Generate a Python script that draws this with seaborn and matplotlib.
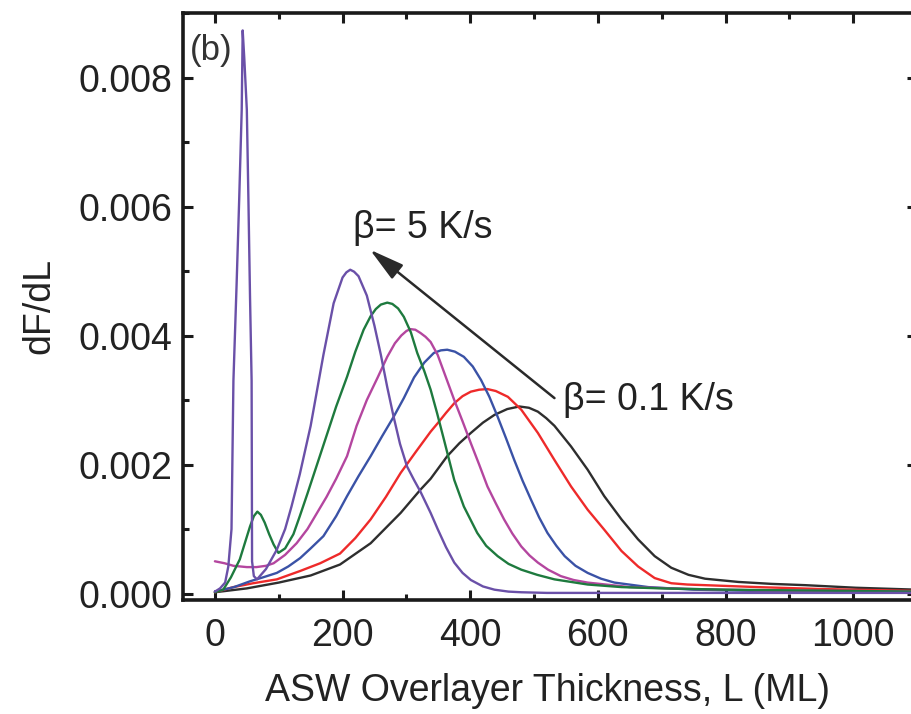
import numpy as np
import pandas as pd
import matplotlib
matplotlib.use("Agg")
import matplotlib.pyplot as plt
import seaborn as sns

# ---- data (dF/dL values read in units of 1e-3) ----
L_p = [0, 8, 16, 21, 26, 29, 34, 38, 42, 43.5, 46, 50, 52.5, 55, 57.5, 58.2, 61, 66, 80, 97,
       110, 120, 133, 150, 170, 186, 200, 206, 212, 218, 225, 238, 250, 260, 270, 280, 290, 301, 312, 322,
       338, 349, 362, 375, 388, 401, 420, 438, 460, 480, 520, 600, 700, 800, 900, 1000, 1100]
v_p = [0.03, 0.08, 0.17, 0.42, 1.0, 3.3, 4.8, 6.1, 7.5, 8.73, 8.3, 7.5, 6.1, 4.6, 3.3, 0.5, 0.27, 0.22, 0.38, 0.68,
       1.0, 1.35, 1.85, 2.6, 3.7, 4.5, 4.9, 4.98, 5.02, 4.99, 4.92, 4.62, 4.15, 3.7, 3.2, 2.74, 2.32, 1.97, 1.76, 1.58,
       1.25, 1.0, 0.72, 0.48, 0.32, 0.21, 0.11, 0.06, 0.03, 0.02, 0.01, 0.01, 0.01, 0.01, 0.01, 0.01, 0.01]

L_g = [0, 13, 25, 39, 55, 61, 66.5, 72, 78, 85, 92, 99.5, 110, 123, 133, 145, 160, 175, 190, 207, 220, 233,
       244, 252, 260, 270, 278, 287, 296, 307, 317, 328, 338, 348, 359, 375, 390, 411, 425, 443, 460, 480, 505,
       532, 584, 637, 700, 800, 900, 1000, 1100]
v_g = [0.02, 0.06, 0.25, 0.53, 1.04, 1.2, 1.27, 1.22, 1.1, 0.92, 0.76, 0.63, 0.7, 0.92, 1.2, 1.55, 2.0, 2.45, 2.9, 3.36, 3.75, 4.09,
       4.3, 4.41, 4.48, 4.51, 4.49, 4.42, 4.29, 4.05, 3.73, 3.45, 3.16, 2.8, 2.38, 1.76, 1.35, 0.94, 0.74, 0.58, 0.46, 0.37, 0.29,
       0.22, 0.14, 0.1, 0.08, 0.06, 0.05, 0.04, 0.03]

L_m = [0, 15, 29, 50, 65, 80, 92, 110, 128, 145, 160, 175, 190, 207, 222, 238, 255, 270, 282, 292, 300, 306,
       314, 322, 330, 338, 349, 362, 375, 388, 401, 414, 427, 440, 453, 466, 480, 493, 506, 522, 542, 562, 584,
       650, 750, 850, 1000, 1100]
v_m = [0.5, 0.47, 0.43, 0.41, 0.41, 0.43, 0.47, 0.6, 0.78, 1.0, 1.25, 1.5, 1.78, 2.13, 2.6, 3.0, 3.35, 3.67, 3.88, 4.0, 4.07, 4.1,
       4.09, 4.04, 3.98, 3.9, 3.7, 3.35, 3.0, 2.67, 2.33, 2.0, 1.66, 1.4, 1.15, 0.93, 0.73, 0.59, 0.48, 0.37, 0.27, 0.21, 0.17,
       0.1, 0.07, 0.05, 0.04, 0.03]

L_b = [0, 30, 55, 75, 97, 115, 133.6, 150, 170, 190, 207, 225, 244, 262, 280, 296, 312, 328, 343, 354, 364,
       376, 390, 404, 417, 430, 443, 456, 469, 482, 495, 508, 521, 535, 548, 565, 584, 605, 626, 679, 750, 850,
       950, 1100]
v_b = [0.03, 0.1, 0.19, 0.25, 0.32, 0.42, 0.55, 0.7, 0.89, 1.2, 1.51, 1.82, 2.13, 2.44, 2.74, 3.03, 3.35, 3.58, 3.73, 3.77, 3.78,
       3.75, 3.67, 3.52, 3.31, 3.05, 2.74, 2.41, 2.07, 1.75, 1.46, 1.18, 0.94, 0.74, 0.58, 0.43, 0.32, 0.23, 0.17, 0.1, 0.06, 0.04,
       0.03, 0.02]

L_r = [0, 29, 60, 97, 133.6, 165, 196, 220, 244, 268, 291, 315, 338, 349, 362, 375, 388, 401, 414, 427,
       440, 459, 480, 506, 532, 558, 584, 610, 637, 663, 689, 715, 740, 768, 850, 950, 1100]
v_r = [0.02, 0.1, 0.16, 0.22, 0.35, 0.47, 0.62, 0.86, 1.15, 1.5, 1.87, 2.2, 2.51, 2.64, 2.8, 2.95, 3.06, 3.13, 3.16, 3.17,
       3.14, 3.05, 2.85, 2.49, 2.07, 1.66, 1.3, 0.99, 0.66, 0.42, 0.24, 0.16, 0.14, 0.13, 0.1, 0.07, 0.04]

L_k = [0, 50, 100, 150, 196, 244, 291, 322, 338, 364, 383, 401, 420, 438, 458, 477, 492, 506, 519, 532, 558,
       584, 610, 637, 663, 689, 715, 742, 768, 820, 872, 925, 1004, 1100]
v_k = [0.02, 0.08, 0.17, 0.28, 0.45, 0.78, 1.25, 1.61, 1.78, 2.13, 2.33, 2.49, 2.65, 2.77, 2.86, 2.90, 2.88, 2.82, 2.72, 2.6, 2.28,
       1.92, 1.51, 1.15, 0.84, 0.58, 0.40, 0.29, 0.23, 0.18, 0.15, 0.13, 0.09, 0.06]

series_names = ["k", "r", "b", "m", "g", "p"]
series_L = [L_k, L_r, L_b, L_m, L_g, L_p]
series_v = [v_k, v_r, v_b, v_m, v_g, v_p]
colors = {"k": "#2e2e2e", "r": "#ee2a2a", "b": "#3a52a6", "m": "#b4469f", "g": "#1e7a3e", "p": "#6a50a8"}

x_ticks = [0, 200, 400, 600, 800, 1000]
y_ticks = [0.000, 0.002, 0.004, 0.006, 0.008]

frames = []
for name, Ls, vs in zip(series_names, series_L, series_v):
    frames.append(pd.DataFrame({"L": Ls, "dFdL": np.array(vs) * 1e-3, "s": name}))
df = pd.concat(frames, ignore_index=True)

sns.set_theme(style="ticks")
plt.rcParams["font.family"] = ["Liberation Sans", "DejaVu Sans"]
plt.rcParams["text.color"] = "#222222"

fig = plt.figure(figsize=(9.12, 7.14), dpi=100)
ax = fig.add_axes([183 / 912, 114 / 714, 734 / 912, 587 / 714])

sns.lineplot(data=df, x="L", y="dFdL", hue="s", palette=colors, estimator=None, sort=False,
             legend=False, linewidth=1.7, ax=ax)

ax.set_xlim(-50, 1100)
ax.set_ylim(-0.0001, 0.009)
ax.set_xticks(x_ticks)
ax.set_xticklabels([str(t) for t in x_ticks])
ax.set_yticks(y_ticks)
ax.set_yticklabels([f"{t:.3f}" for t in y_ticks])
ax.xaxis.set_minor_locator(matplotlib.ticker.MultipleLocator(100))
ax.yaxis.set_minor_locator(matplotlib.ticker.MultipleLocator(0.001))

for sp in ax.spines.values():
    sp.set_linewidth(2.6)
    sp.set_color("#1a1a1a")
    sp.set_visible(True)

ax.tick_params(which="both", direction="in", top=True, right=True, color="#1a1a1a", width=2.2)
ax.tick_params(which="major", length=7.2)
ax.tick_params(which="minor", length=4.6)
ax.tick_params(axis="x", which="major", labelsize=27, pad=13, labelcolor="#222222")
ax.tick_params(axis="y", which="major", labelsize=27, pad=8, labelcolor="#222222")

ax.set_xlabel("ASW Overlayer Thickness, L (ML)", fontsize=27, color="#222222")
ax.set_ylabel("dF/dL", fontsize=27, color="#222222")
ax.xaxis.set_label_coords((548 - 183) / 734, -(673 - 600) / 587)
ax.yaxis.set_label_coords(-(183 - 57) / 734, (600 - 306) / 587)

ax.annotate("", xy=(243, 0.00533), xytext=(532, 0.00303),
            arrowprops=dict(arrowstyle="-|>,head_length=0.85,head_width=0.22", color="#2a2a2a", lw=1.8,
                            mutation_scale=25, shrinkA=0, shrinkB=0))
ax.text(216, 0.00551, "β= 5 K/s", fontsize=27, ha="left", va="baseline", color="#222222")
ax.text(545, 0.00285, "β= 0.1 K/s", fontsize=27, ha="left", va="baseline", color="#222222")
ax.text(-39, 0.00827, "(b)", fontsize=25, ha="left", va="baseline", color="#333333")

fig.savefig("out.png", dpi=100)
